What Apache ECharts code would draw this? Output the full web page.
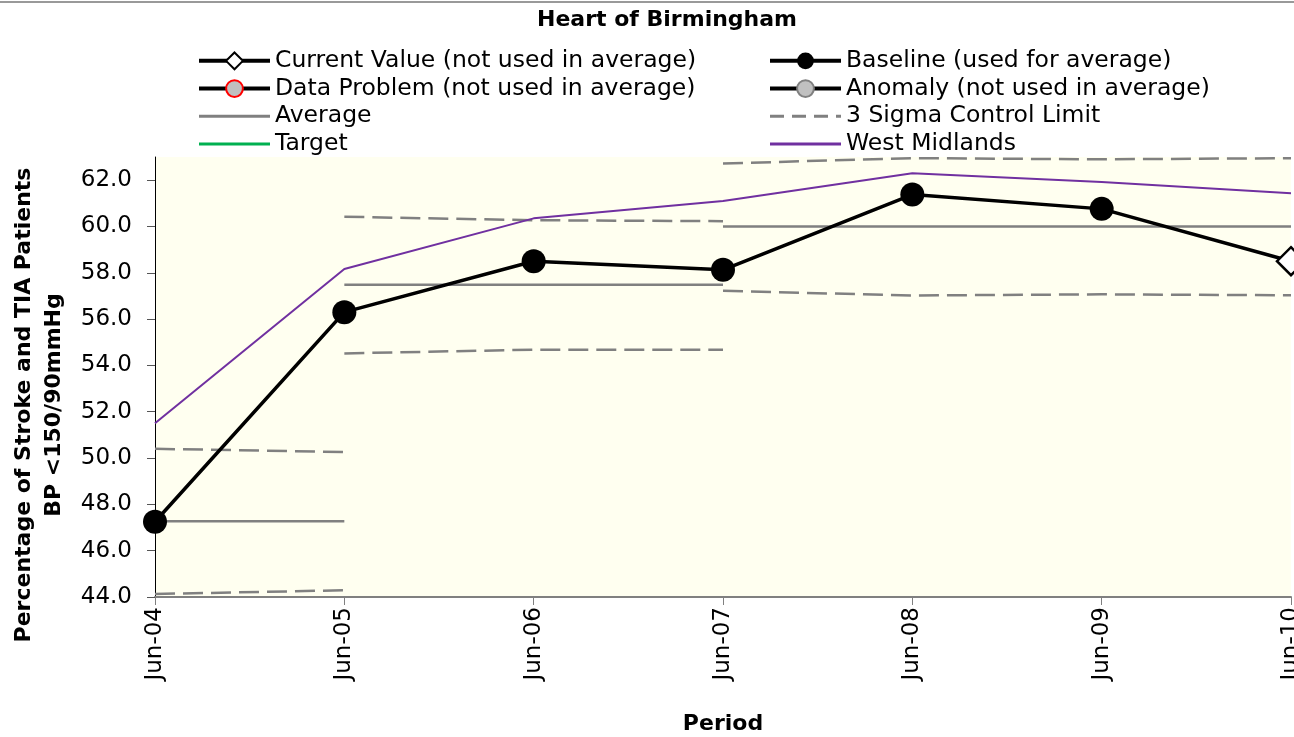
<!DOCTYPE html>
<html>
<head>
<meta charset="utf-8">
<script src="https://cdn.jsdelivr.net/npm/echarts@6/dist/echarts.min.js"></script>
<style>
  html, body { margin: 0; padding: 0; background: #fff; }
  #chart { width: 1294px; height: 737px; }
</style>
</head>
<body>
<div id="chart"></div>
<script>
// Periods on the x axis
const periods = ['Jun-04', 'Jun-05', 'Jun-06', 'Jun-07', 'Jun-08', 'Jun-09', 'Jun-10'];

// Practice values (%): baseline points used for the average, latest point shown separately
const baseline = [47.25, 56.3, 58.5, 58.13, 61.38, 60.76, null];
const currentValue = [null, null, null, null, null, null, 58.5];

// Regional comparison
const westMidlands = [51.5, 58.16, 60.35, 61.1, 62.3, 61.92, 61.43];

// Average, one step per baseline block
const averageBlock1 = [47.27, 47.27, null, null, null, null, null];
const averageBlock2 = [null, 57.48, 57.48, 57.48, null, null, null];
const averageBlock3 = [null, null, null, 60.0, 60.0, 60.0, 60.0];

// 3 sigma control limits per block
const upperBlock1 = [50.4, 50.26, null, null, null, null, null];
const lowerBlock1 = [44.13, 44.29, null, null, null, null, null];
const upperBlock2 = [null, 60.42, 60.27, 60.23, null, null, null];
const lowerBlock2 = [null, 54.52, 54.68, 54.68, null, null, null];
const upperBlock3 = [null, null, null, 62.72, 62.95, 62.9, 62.95];
const lowerBlock3 = [null, null, null, 57.22, 57.02, 57.07, 57.03];

// Y axis tick values
const yTicks = [44, 46, 48, 50, 52, 54, 56, 58, 60, 62];

const FONT = 'DejaVu Sans';
const GRID = { left: 155, right: 3, top: 157, bottom: 140 };

// The current-value line starts from the last baseline point
const lastBase = baseline.reduce((acc, v, i) => (v != null ? i : acc), -1);
const currentLine = currentValue.map((v, i) =>
  i === lastBase ? { value: baseline[i], symbol: 'none' } : v
);

const sigmaStyle = { color: '#808080', width: 2.5, type: [20, 8] };
const avgStyle = { color: '#808080', width: 2.5 };

function sigmaSeries(data) {
  return {
    name: '3 Sigma Control Limit', type: 'line', data: data,
    symbol: 'none', lineStyle: sigmaStyle, itemStyle: { color: '#808080' },
    silent: true, z: 2
  };
}
function avgSeries(data) {
  return {
    name: 'Average', type: 'line', data: data,
    symbol: 'none', lineStyle: avgStyle, itemStyle: { color: '#808080' },
    silent: true, z: 3
  };
}

const legendText = { fontFamily: FONT, fontSize: 23.5, color: '#000', lineHeight: 27.7 };
const noMarker = { opacity: 0 };

const option = {
  backgroundColor: '#fff',
  animation: false,
  title: {
    text: 'Heart of Birmingham',
    left: 537, top: 9, padding: 0,
    textStyle: { fontFamily: FONT, fontSize: 22, fontWeight: 'bold', color: '#000' }
  },
  legend: [
    {
      orient: 'vertical', left: 197, top: 47, padding: 0,
      itemWidth: 71, itemHeight: 21, itemGap: 0, selectedMode: false,
      textStyle: legendText,
      data: [
        { name: 'Current Value (not used in average)', lineStyle: { color: '#000', width: 4 } },
        { name: 'Data Problem (not used in average)', lineStyle: { color: '#000', width: 4 } },
        { name: 'Average', lineStyle: { color: '#808080', width: 3 }, itemStyle: noMarker },
        { name: 'Target', lineStyle: { color: '#00B050', width: 3 }, itemStyle: noMarker }
      ]
    },
    {
      orient: 'vertical', left: 768, top: 47, padding: 0,
      itemWidth: 71, itemHeight: 21, itemGap: 0, selectedMode: false,
      textStyle: legendText,
      data: [
        { name: 'Baseline (used for average)', lineStyle: { color: '#000', width: 4 } },
        { name: 'Anomaly (not used in average)', lineStyle: { color: '#000', width: 4 } },
        { name: '3 Sigma Control Limit', lineStyle: { color: '#808080', width: 3, type: [14, 8] }, itemStyle: noMarker },
        { name: 'West Midlands', lineStyle: { color: '#7030A0', width: 3 }, itemStyle: noMarker }
      ]
    }
  ],
  graphic: [
    {
      type: 'line', silent: true,
      shape: { x1: 0, y1: 2, x2: 1294, y2: 2 },
      style: { stroke: '#999', lineWidth: 2 }
    }
  ],
  grid: Object.assign({
    show: true, backgroundColor: '#FFFFF0', borderWidth: 0,
    containLabel: false, outerBoundsMode: 'none'
  }, GRID),
  xAxis: {
    type: 'category', data: periods, boundaryGap: false,
    name: 'Period', nameLocation: 'middle', nameGap: 116,
    nameTextStyle: { fontFamily: FONT, fontSize: 22, fontWeight: 'bold', color: '#000' },
    axisLine: { lineStyle: { color: '#808080', width: 2 } },
    axisTick: { length: 8, lineStyle: { color: '#808080', width: 1 } },
    axisLabel: { rotate: 90, margin: 10, fontFamily: FONT, fontSize: 23, color: '#000', interval: 0 },
    splitLine: { show: false }
  },
  yAxis: {
    type: 'value', min: 44, max: 63, interval: 1,
    name: 'Percentage of Stroke and TIA Patients\nBP <150/90mmHg',
    nameLocation: 'middle', nameRotate: 90, nameGap: 86,
    nameTextStyle: {
      fontFamily: FONT, fontSize: 22, fontWeight: 'bold', color: '#000',
      lineHeight: 30, padding: [0, 56, 0, 0]
    },
    axisLine: { show: true, lineStyle: { color: '#000', width: 1 } },
    axisTick: { show: true, length: 8, customValues: yTicks, lineStyle: { color: '#555' } },
    axisLabel: {
      customValues: yTicks, margin: 23,
      fontFamily: FONT, fontSize: 23, color: '#000',
      formatter: v => v.toFixed(1)
    },
    splitLine: { show: false }
  },
  series: [
    sigmaSeries(upperBlock1), sigmaSeries(lowerBlock1),
    sigmaSeries(upperBlock2), sigmaSeries(lowerBlock2),
    sigmaSeries(upperBlock3), sigmaSeries(lowerBlock3),
    avgSeries(averageBlock1), avgSeries(averageBlock2), avgSeries(averageBlock3),
    {
      name: 'Target', type: 'line', data: [], symbol: 'none',
      lineStyle: { color: '#00B050', width: 2 }, itemStyle: { color: '#00B050' }
    },
    {
      name: 'West Midlands', type: 'line', data: westMidlands, symbol: 'none',
      lineStyle: { color: '#7030A0', width: 2 }, itemStyle: { color: '#7030A0' }, z: 4
    },
    {
      name: 'Data Problem (not used in average)', type: 'line', data: [],
      symbol: 'circle', symbolSize: 24,
      lineStyle: { color: '#000', width: 3.5 },
      itemStyle: { color: '#C0C0C0', borderColor: '#FF0000', borderWidth: 2 }
    },
    {
      name: 'Anomaly (not used in average)', type: 'line', data: [],
      symbol: 'circle', symbolSize: 24,
      lineStyle: { color: '#000', width: 3.5 },
      itemStyle: { color: '#C0C0C0', borderColor: '#808080', borderWidth: 2 }
    },
    {
      name: 'Current Value (not used in average)', type: 'line', data: currentLine,
      symbol: 'diamond', symbolSize: 28, showAllSymbol: true,
      lineStyle: { color: '#000', width: 3.5 },
      itemStyle: { color: '#fff', borderColor: '#000', borderWidth: 2.5 }, z: 5
    },
    {
      name: 'Baseline (used for average)', type: 'line', data: baseline,
      symbol: 'circle', symbolSize: 24, showAllSymbol: true,
      lineStyle: { color: '#000', width: 3.5 },
      itemStyle: { color: '#000' }, z: 6
    }
  ]
};

const chart = echarts.init(document.getElementById('chart'), null, { renderer: 'canvas' });
chart.setOption(option);
</script>
</body>
</html>
